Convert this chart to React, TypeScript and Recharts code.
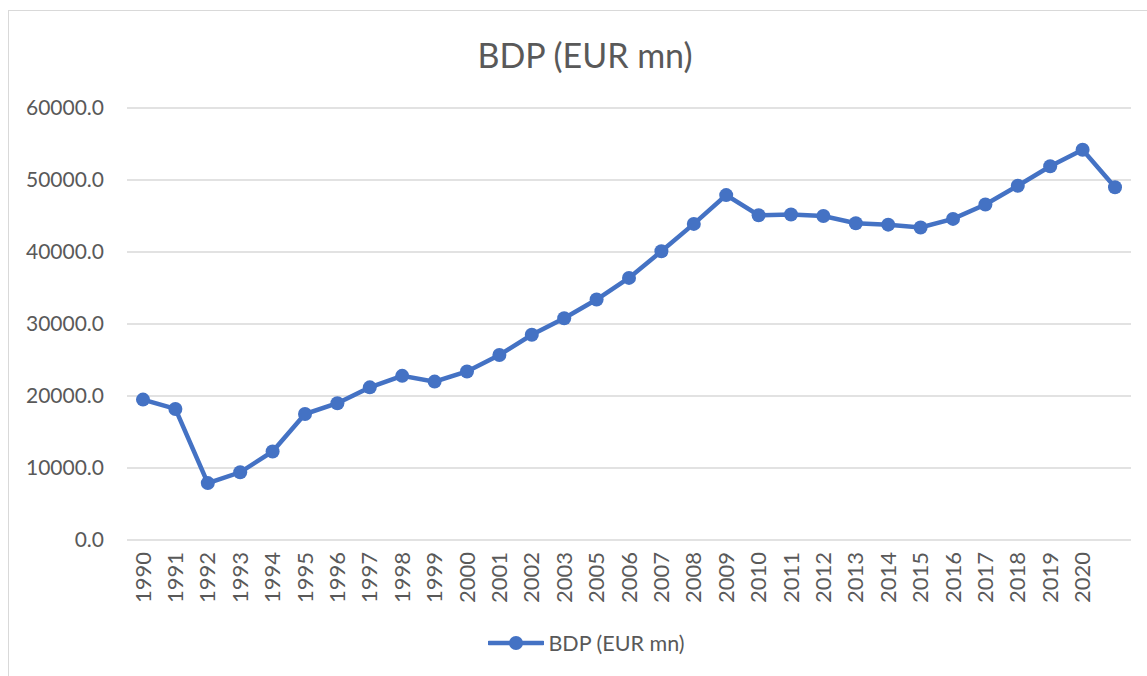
import { LineChart, Line, XAxis, YAxis, CartesianGrid, Legend } from 'recharts';

const years = [
  '1990', '1991', '1992', '1993', '1994', '1995', '1996', '1997', '1998', '1999',
  '2000', '2001', '2002', '2003', '2005', '2006', '2007', '2008', '2009', '2010',
  '2011', '2012', '2013', '2014', '2015', '2016', '2017', '2018', '2019', '2020', '',
];

const bdp = [
  19500, 18200, 7900, 9400, 12300, 17500, 19000, 21200, 22800, 22000,
  23400, 25700, 28500, 30800, 33400, 36400, 40100, 43900, 47900, 45100,
  45200, 45000, 44000, 43800, 43400, 44600, 46600, 49200, 51900, 54200, 49000,
];

const yTicks = [0, 10000, 20000, 30000, 40000, 50000, 60000];

const SERIES_NAME = 'BDP (EUR mn)';
const BLUE = '#4472C4';
const TEXT = '#595959';
const FONT = 'Lato, "Open Sans", sans-serif';

const chartData = years.map((year, i) => ({ year: `${i}|${year}`, value: bdp[i] }));

const YearTick = ({ x, y, payload }: any) => {
  const label = String(payload.value).split('|')[1];
  return (
    <text
      x={x}
      y={y}
      transform={`rotate(-90, ${x}, ${y})`}
      textAnchor="end"
      dy="0.35em"
      fill={TEXT}
      fontSize={22}
      fontFamily={FONT}
    >
      {label}
    </text>
  );
};

const LegendContent = () => (
  <div style={{ height: 30, display: 'flex', justifyContent: 'center', alignItems: 'center', marginLeft: 42 }}>
    <svg width={56} height={16} style={{ marginRight: 4 }}>
      <line x1={1} y1={8} x2={55} y2={8} stroke={BLUE} strokeWidth={4.5} strokeLinecap="round" />
      <circle cx={28} cy={8} r={7} fill={BLUE} />
    </svg>
    <span style={{ color: TEXT, fontSize: 21.5, fontFamily: FONT }}>{SERIES_NAME}</span>
  </div>
);

export default function App() {
  return (
    <div style={{ position: 'absolute', left: 0, top: 0, width: 1147, height: 676, background: '#fff', overflow: 'hidden', fontFamily: FONT }}>
      <div
        style={{
          position: 'absolute', left: 8, top: 10, width: 1160, height: 700,
          borderLeft: '1px solid #d9d9d9', borderTop: '1px solid #d9d9d9',
        }}
      />
      <div style={{ position: 'absolute', left: 0, width: 1170, top: 34, textAlign: 'center', color: TEXT, fontSize: 34, fontFamily: FONT }}>
        {SERIES_NAME}
      </div>
      <div style={{ position: 'absolute', left: 0, top: 0 }}>
        <LineChart width={1147} height={676} data={chartData} margin={{ top: 108, right: 16, left: 0, bottom: 18 }}>
          <CartesianGrid vertical={false} stroke="#d9d9d9" strokeWidth={1.3} />
          <XAxis
            dataKey="year"
            interval={0}
            height={88}
            padding={{ left: 16, right: 16 }}
            tick={<YearTick />}
            tickLine={false}
            axisLine={false}
            tickSize={0}
            tickMargin={12}
          />
          <YAxis
            domain={[0, 60000]}
            ticks={yTicks}
            width={127}
            tickFormatter={(v: number) => v.toFixed(1)}
            tick={{ fill: TEXT, fontSize: 21, fontFamily: FONT }}
            axisLine={false}
            tickLine={false}
            tickSize={0}
            tickMargin={23}
          />
          <Legend verticalAlign="bottom" content={<LegendContent />} />
          <Line
            type="linear"
            dataKey="value"
            name={SERIES_NAME}
            stroke={BLUE}
            strokeWidth={4.5}
            dot={{ r: 7, fill: BLUE, stroke: BLUE, strokeWidth: 0 }}
            activeDot={false}
            isAnimationActive={false}
          />
        </LineChart>
      </div>
    </div>
  );
}
